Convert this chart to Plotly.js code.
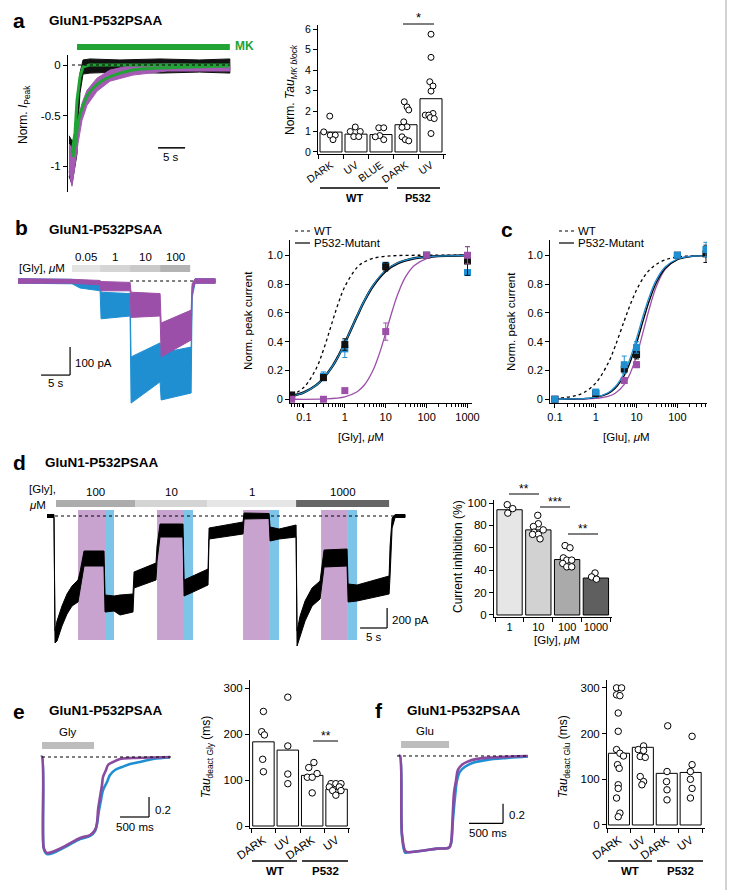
<!DOCTYPE html>
<html>
<head>
<meta charset="utf-8">
<script src="https://cdn.plot.ly/plotly-3.0.1.min.js"></script>
<style>html,body{margin:0;padding:0;background:#fff;}#chart{width:730px;height:890px;}</style>
</head>
<body>
<div id="chart"></div>
<script>
// ================= DATA =================
// Panel a – MK-801 block traces (time in s, normalized current)
const aBlackT  = [0.19,0.74,1.30,1.67,1.85,2.22,2.78,4.07,9.63,17.04,24.4,30.0];
const aBlackUp = [-0.70,-0.75,-0.72,-0.65,-0.40,-0.08,0.05,0.06,0.05,0.06,0.05,0.06];
const aBlackLo = [-1.10,-1.18,-1.00,-0.88,-0.60,-0.28,-0.09,-0.08,-0.07,-0.08,-0.07,-0.08];
const aPurT  = [0.19,0.74,1.30,1.85,2.59,3.52,5.37,7.78,12.04,18.33,30.0];
const aPurUp = [-0.78,-0.82,-0.72,-0.55,-0.38,-0.25,-0.13,-0.05,0.00,0.01,0.00];
const aPurLo = [-1.05,-1.20,-1.00,-0.78,-0.55,-0.40,-0.26,-0.16,-0.10,-0.06,-0.06];
const aFitBT = [0.74,1.30,1.67,2.22,2.78,3.89,30.0];
const aFitBV = [-0.87,-0.67,-0.35,-0.12,-0.02,0.0,0.0];
const aFitPT = [0.93,1.48,1.85,2.59,3.52,4.63,6.48,9.07,12.04,17.04,22.6,30.0];
const aFitPV = [-0.91,-0.74,-0.57,-0.43,-0.31,-0.23,-0.15,-0.09,-0.05,-0.03,-0.02,-0.01];
const aMK = [1.67, 30.0];

// Panel a – bar chart
const aCats  = ['DARK','UV','BLUE','DARK','UV'];
const aMeans = [0.97,0.87,0.85,1.33,2.6];
const aPts = [
  [1.75,0.98,0.82,0.82,0.6],
  [1.22,1.0,1.0,0.75,0.75],
  [1.18,1.18,0.8,0.74,0.6],
  [2.45,2.2,2.05,1.47,1.23,1.2,0.74,0.6,0.54],
  [5.75,4.62,3.43,3.22,2.97,1.88,1.8,1.8,1.68,1.63,0.9]
];
const aJit = [
  [-0.05,-0.29,-0.03,0.17,0.08],
  [-0.03,-0.23,0.17,-0.09,0.11],
  [-0.09,0.11,-0.05,-0.23,0.11],
  [-0.07,0.04,0.11,-0.09,0.04,-0.16,-0.16,-0.03,0.11],
  [0,0,-0.05,0.08,0,0.08,-0.23,-0.09,-0.03,0.13,0]
];

// Panel b – Gly steps trace (time s, current pA)
const bBlueT  = [0,9.31,10.69,14.14,14.31,19.31,19.48,21.9,24.48,24.66,29.83,30.0,30.5,33.97];
const bBlueUp = [8,6,-5,-10,-40,-45,-271,-246,-221,-257,-236,-20,8,8];
const bBlueLo = [-8,-10,-25,-35,-135,-125,-436,-400,-360,-425,-400,-60,-8,-8];
const bPurT  = [0,9.31,14.14,14.31,19.31,19.48,24.48,24.66,29.83,30.0,30.5,33.97];
const bPurUp = [8,6,2,-2,-5,-40,-45,-150,-104,-10,8,8];
const bPurLo = [-8,-8,-14,-35,-35,-130,-125,-271,-211,-40,-8,-8];
const bGlyLabels = ['0.05','1','10','100'];
const bGlyStart  = [9.31,14.14,19.31,24.48];
const bGlyEnd    = [14.14,19.31,24.48,29.66];

// Panel b – Gly dose response
const bConc   = [0.05,0.3,1,10,100,1000];
const bBlack  = [0.03,0.15,0.38,0.92,1.0,0.96];
const bBlackE = [0.01,0.02,0.04,0.03,0,0.1];
const bBlue   = [0.02,0.16,0.35,0.93,1.0,0.88];
const bBlueE  = [0.01,0.03,0.06,0.02,0,0];
const bPurple = [0.0,0.0,0.06,0.47,1.0,1.0];
const bPurpleE= [0,0,0.01,0.06,0,0.06];
const bCurveX = [0.05,0.1,0.2,0.3,0.5,0.7,1,2,3,5,10,20,50,100,1000];
const bWTcurve   = [0.029,0.083,0.214,0.343,0.542,0.67,0.782,0.916,0.954,0.979,0.993,0.998,1,1,1];
const bMutBlack  = [0.023,0.048,0.098,0.146,0.23,0.302,0.39,0.578,0.682,0.79,0.89,0.945,0.979,0.99,0.999];
const bMutBlue   = [0.022,0.047,0.097,0.145,0.23,0.30,0.39,0.58,0.685,0.795,0.895,0.948,0.98,0.99,0.999];
const bPurCurveX = [0.05,0.3,1,2,3,5,7,10,15,20,30,50,100,200,1000];
const bMutPurple = [0,0.002,0.017,0.052,0.099,0.207,0.317,0.46,0.629,0.734,0.846,0.929,0.977,0.993,1.0];

// Panel c – Glu dose response
const cConc   = [0.1,1,5,10,100,500];
const cBlack  = [0.0,0.04,0.21,0.31,1.0,1.01];
const cBlackE = [0,0.01,0.02,0.03,0,0.06];
const cBlue   = [0.0,0.05,0.24,0.36,1.0,1.04];
const cBlueE  = [0,0.01,0.06,0.04,0,0.05];
const cPurple = [0.0,0.04,0.13,0.24,1.0,1.13];
const cPurpleE= [0,0,0.02,0.02,0,0];
const cCurveX = [0.1,0.3,0.5,1,2,3,5,7,10,15,20,30,50,100,200,500];
const cWTcurve  = [0.005,0.023,0.045,0.112,0.249,0.369,0.545,0.657,0.759,0.848,0.893,0.936,0.968,0.988,0.995,0.999];
const cMutBlack = [0,0.002,0.004,0.013,0.040,0.076,0.165,0.259,0.39,0.56,0.675,0.806,0.908,0.970,0.990,0.998];
const cMutBlue  = [0,0.002,0.004,0.0145,0.045,0.0865,0.184,0.286,0.423,0.594,0.704,0.826,0.919,0.974,0.992,0.998];
const cMutPurple= [0,0,0.001,0.0055,0.020,0.042,0.104,0.181,0.303,0.485,0.618,0.778,0.902,0.972,0.992,0.999];

// Panel d – trace (time s, current pA)
const dT  = [1.30,2.59,2.78,3.15,4.07,5.00,5.93,7.04,7.41,8.15,11.85,12.04,13.70,14.81,17.22,17.41,21.48,21.67,22.22,26.48,26.67,28.33,31.11,31.30,37.59,37.78,42.41,42.59,44.26,47.41,47.59,48.15,49.07,50.37,51.85,52.59,56.85,57.04,58.70,64.63,64.81,65.19,65.74,67.59];
const dUp = [15,15,-1150,-1050,-900,-780,-700,-640,-560,-350,-350,-790,-800,-790,-780,-560,-470,-300,-80,-80,-640,-600,-530,-120,-60,30,25,-110,-130,-90,-1150,-1000,-850,-720,-650,-340,-330,-680,-690,-600,-300,-20,15,15];
const dLo = [-15,-15,-1270,-1250,-1100,-980,-900,-860,-760,-500,-500,-960,-950,-990,-960,-720,-640,-450,-210,-210,-800,-760,-690,-230,-180,-30,-25,-250,-230,-210,-1300,-1200,-1050,-900,-830,-510,-500,-860,-850,-780,-600,-120,-15,-15];
const dGlyLabels = ['100','10','1','1000'];
const dGlyStart  = [2.96,17.59,30.93,47.41];
const dGlyEnd    = [17.59,30.93,47.41,64.63];
const dUVStart   = [7.04,21.67,37.59,52.04];
const dUVEnd     = [12.04,26.48,42.41,56.85];
const dBlueEnd   = [13.70,28.33,44.26,58.70];

// Panel d – inhibition bars
const dCats  = ['1','10','100','1000'];
const dMeans = [94,76,49.5,33];
const dPts = [
  [98.5,95,91],
  [89,81.5,79,76,74,72,72,68],
  [62,60,51,49,49,46,43,43],
  [37.5,34,32]
];
const dJit = [
  [-0.08,0.11,-0.06],
  [-0.02,0,-0.17,0.17,-0.15,0,-0.2,0.06],
  [-0.07,0.1,-0.13,-0.01,0.16,-0.15,-0.01,0.16],
  [-0.03,-0.15,0.02]
];

// Panel e – Gly deactivation trace (ms, normalized)
const ePurT = [-17,0,26,52,86,172,431,655,828,914,948,966,1000,1034,1052,1103,1138,1224,1345,1569,2207];
const ePurV = [0,0,-0.90,-0.94,-0.96,-0.95,-0.88,-0.81,-0.78,-0.73,-0.66,-0.53,-0.40,-0.28,-0.20,-0.13,-0.08,-0.05,-0.02,-0.01,0];
const eBluT = [-17,0,26,52,86,190,431,655,828,914,948,983,1017,1052,1121,1172,1259,1379,1517,1690,1914,2207];
const eBluV = [0,0,-0.90,-0.95,-0.97,-0.96,-0.89,-0.82,-0.79,-0.74,-0.67,-0.53,-0.43,-0.33,-0.25,-0.18,-0.13,-0.10,-0.07,-0.05,-0.02,-0.005];
const eGly = [0, 897];

// Panel e – tau bars
const eCats  = ['DARK','UV','DARK','UV'];
const eMeans = [183,165,110,80];
const ePts = [
  [249,205,198,145,118],
  [280,174,113,92],
  [138,127,114,106,106,72],
  [92,92,92,85,85,77,77,67]
];
const eJit = [
  [0,-0.07,0.04,-0.03,0],
  [0,0,0,0],
  [0.07,-0.14,0.2,-0.2,0,0],
  [-0.23,-0.03,0.18,-0.3,0.11,-0.16,0.18,-0.03]
];

// Panel f – Glu deactivation trace
const fPurT = [-15,0,29,74,103,294,544,721,750,765,779,794,824,853,912,985,1132,1368,1882];
const fPurV = [0,0,-0.80,-0.97,-0.985,-0.975,-0.95,-0.94,-0.89,-0.76,-0.55,-0.38,-0.25,-0.14,-0.09,-0.06,-0.03,-0.015,0];
const fBluT = [-15,0,29,74,103,294,544,721,750,779,809,838,882,956,1074,1279,1574,1882];
const fBluV = [0,0,-0.82,-0.99,-0.99,-0.975,-0.95,-0.94,-0.90,-0.65,-0.42,-0.25,-0.16,-0.11,-0.07,-0.04,-0.02,-0.005];
const fGlu = [15, 721];

// Panel f – tau bars
const fCats  = ['DARK','UV','DARK','UV'];
const fMeans = [157,170,113,115];
const fPts = [
  [300,300,285,283,245,205,165,157,151,132,124,88,80,59,26,18],
  [173,165,163,150,148,106,95,88],
  [217,117,95,77,55],
  [194,132,117,100,80,59]
];
const fJit = [
  [-0.1,0.11,-0.1,0.04,-0.03,-0.03,-0.1,0.04,0.19,-0.06,0.01,-0.03,-0.03,-0.1,0.04,-0.03],
  [0.03,-0.19,0.03,-0.11,0.1,-0.11,0.03,-0.04],
  [0.04,0.01,-0.01,0.01,0.01],
  [0.06,0.06,-0.01,-0.01,0.06,-0.01]
];

// ================= STYLE / HELPERS =================
const FONT = 'Liberation Sans, Arial, Helvetica, sans-serif';
const W = 730, H = 890;
const xd = (a,b) => [a/W, b/W];
const yd = (t,b) => [1-b/H, 1-t/H];
const PURPLE = '#9c4fa8', BLUE = '#1f8fd2', GREEN = '#22a336';
const ROT = -35;

const traces = [], shapes = [], ann = [];

function band(t, up, lo, color, xa, ya){
  traces.push({type:'scatter', mode:'lines', x: t.concat(t.slice().reverse()), y: up.concat(lo.slice().reverse()),
    fill:'toself', fillcolor:color, line:{color:color, width:1}, xaxis:xa, yaxis:ya, hoverinfo:'skip'});
}
function line(x, y, color, width, xa, ya, dash, shape){
  traces.push({type:'scatter', mode:'lines', x, y, line:{color, width, dash:dash||'solid', shape:shape||'linear'}, xaxis:xa, yaxis:ya, hoverinfo:'skip'});
}
function squares(x, y, err, color, xa, ya){
  traces.push({type:'scatter', mode:'markers', x, y, xaxis:xa, yaxis:ya,
    marker:{symbol:'square', size:7, color},
    error_y:{type:'data', array:err, visible:true, color:color, thickness:1, width:2.5}, hoverinfo:'skip'});
}
function bars(means, colors, xa, ya, width){
  traces.push({type:'bar', x: means.map((_,i)=>i), y: means, width: width, xaxis:xa, yaxis:ya,
    marker:{color:colors, line:{color:'#000', width:1}}, hoverinfo:'skip'});
}
function dots(pts, jit, xa, ya, size){
  const xs=[], ys=[];
  pts.forEach((arr,i)=>arr.forEach((v,j)=>{xs.push(i+jit[i][j]); ys.push(v);}));
  traces.push({type:'scatter', mode:'markers', x:xs, y:ys, xaxis:xa, yaxis:ya, cliponaxis:false,
    marker:{symbol:'circle', size:size||6.5, color:'#fff', line:{color:'#000', width:1}}, hoverinfo:'skip'});
}
function L(x0,y0,x1,y1,o){ shapes.push(Object.assign({type:'line', xref:'paper', yref:'paper', x0:x0/W, y0:1-y0/H, x1:x1/W, y1:1-y1/H, line:{color:'#000', width:1}}, o||{})); }
function DL(xr,yr,x0,y0,x1,y1,o){ shapes.push(Object.assign({type:'line', xref:xr, yref:yr, x0, y0, x1, y1, line:{color:'#000', width:1}}, o||{})); }
function T(x,y,text,size,xanchor,color,angle){
  ann.push({xref:'paper', yref:'paper', x:x/W, y:1-y/H, text, showarrow:false, xanchor:xanchor||'center', yanchor:'middle',
    textangle: angle||0, font:{family:FONT, size:size||11, color:color||'#000'}});
}
function DT(xr, x, y, text, size){
  ann.push({xref:xr, yref:'paper', x, y:1-y/H, text, showarrow:false, xanchor:'center', yanchor:'middle', font:{family:FONT, size:size||11, color:'#000'}});
}

const ax = (o) => Object.assign({showline:true, linecolor:'#000', linewidth:1, ticks:'outside', ticklen:4, tickwidth:1, tickcolor:'#000',
  showgrid:false, zeroline:false, fixedrange:true, tickfont:{family:FONT, size:11, color:'#000'}}, o);
const hid = (o) => Object.assign({visible:false, showgrid:false, zeroline:false, fixedrange:true}, o);
function logMinor(a, b){ const v=[]; for(let e=a; e<=b; e++){ for(let k=2;k<=9;k++) v.push(k*Math.pow(10,e)); } return v; }
const catBounds = n => Array.from({length:n+1}, (_,i)=>i-0.5);

// ================= PANEL a =================
band(aBlackT, aBlackUp, aBlackLo, '#111', 'x', 'y');
band(aPurT, aPurUp, aPurLo, '#a55ab4', 'x', 'y');
line(aFitPT, aFitPV, GREEN, 3, 'x', 'y', 'solid', 'spline');
line(aFitBT, aFitBV, GREEN, 3, 'x', 'y');
shapes.push({type:'rect', xref:'x', yref:'paper', x0:aMK[0], x1:aMK[1], y0:1-50/H, y1:1-44/H, fillcolor:GREEN, line:{width:0}});
DL('x','y', 0.74, 0, 30, 0, {line:{color:'#000', width:1, dash:'dot'}});
DL('x','y', 16.7, -0.82, 21.7, -0.82, {line:{color:'#000', width:1.5}});

bars(aMeans, '#fff', 'x2', 'y2', 0.88);
dots(aPts, aJit, 'x2', 'y2', 6);

// ================= PANEL b =================
bGlyStart.forEach((s,i)=>{
  shapes.push({type:'rect', xref:'x3', yref:'paper', x0:s, x1:bGlyEnd[i], y0:1-272/H, y1:1-265/H,
    fillcolor:['#e3e3e3','#d5d5d5','#c9c9c9','#b3b3b3'][i], line:{width:0}});
  DT('x3', (s+bGlyEnd[i])/2, 257, bGlyLabels[i], 11.5);
});
band(bBlueT, bBlueUp, bBlueLo, BLUE, 'x3', 'y3');
band(bPurT, bPurUp, bPurLo, PURPLE, 'x3', 'y3');
DL('x3','y3', 19.31, 0, 30.17, 0, {line:{color:'#000', width:1, dash:'dot'}});
DL('x3','y3', 3.97, -336, 8.97, -336, {line:{color:'#000', width:1.2}});
DL('x3','y3', 8.97, -336, 8.97, -236, {line:{color:'#000', width:1.2}});

line(bCurveX, bWTcurve, '#000', 1.3, 'x4', 'y4', 'dot', 'spline');
line(bPurCurveX, bMutPurple, PURPLE, 1.3, 'x4', 'y4', 'solid', 'spline');
line(bCurveX, bMutBlack, '#000', 2.4, 'x4', 'y4', 'solid', 'spline');
line(bCurveX, bMutBlue, BLUE, 1.2, 'x4', 'y4', 'solid', 'spline');
squares(bConc, bBlue, bBlueE, BLUE, 'x4', 'y4');
squares(bConc, bBlack, bBlackE, '#111', 'x4', 'y4');
squares(bConc, bPurple, bPurpleE, PURPLE, 'x4', 'y4');

// ================= PANEL c =================
line(cCurveX, cWTcurve, '#000', 1.3, 'x5', 'y5', 'dot', 'spline');
line(cCurveX, cMutPurple, PURPLE, 1.3, 'x5', 'y5', 'solid', 'spline');
line(cCurveX, cMutBlack, '#000', 1.4, 'x5', 'y5', 'solid', 'spline');
line(cCurveX, cMutBlue, BLUE, 1.3, 'x5', 'y5', 'solid', 'spline');
squares(cConc, cPurple, cPurpleE, PURPLE, 'x5', 'y5');
squares(cConc, cBlack, cBlackE, '#111', 'x5', 'y5');
squares(cConc, cBlue, cBlueE, BLUE, 'x5', 'y5');

// ================= PANEL d =================
dUVStart.forEach((s,i)=>{
  shapes.push({type:'rect', xref:'x6', yref:'y6', x0:s, x1:dUVEnd[i], y0:-1240, y1:60, fillcolor:'#c9a3cf', line:{width:0}, layer:'below'});
  shapes.push({type:'rect', xref:'x6', yref:'y6', x0:dUVEnd[i], x1:dBlueEnd[i], y0:-1240, y1:60, fillcolor:'#7cc4e8', line:{width:0}, layer:'below'});
});
dGlyStart.forEach((s,i)=>{
  shapes.push({type:'rect', xref:'x6', yref:'paper', x0:s, x1:dGlyEnd[i], y0:1-507/H, y1:1-500/H,
    fillcolor:['#acacac','#d4d4d4','#e6e6e6','#666666'][i], line:{width:0}});
  DT('x6', (s+dGlyEnd[i])/2, 492, dGlyLabels[i], 11.5);
});
band(dT, dUp, dLo, '#000', 'x6', 'y6');
DL('x6','y6', 2.78, 0, 67.2, 0, {line:{color:'#000', width:1, dash:'dot'}});
DL('x6','y6', 59.26, -1120, 64.26, -1120, {line:{color:'#000', width:1.2}});
DL('x6','y6', 64.26, -1120, 64.26, -920, {line:{color:'#000', width:1.2}});

bars(dMeans, ['#e6e6e6','#d2d2d2','#aaaaaa','#5f5f5f'], 'x7', 'y7', 0.88);
dots(dPts, dJit, 'x7', 'y7', 6.5);

// ================= PANEL e =================
shapes.push({type:'rect', xref:'x8', yref:'paper', x0:eGly[0], x1:eGly[1], y0:1-749/H, y1:1-742/H, fillcolor:'#bdbdbd', line:{width:0}});
DT('x8', (eGly[0]+eGly[1])/2, 732, 'Gly', 11.5);
DL('x8','y8', 0, 0, 2241, 0, {line:{color:'#000', width:1, dash:'dot'}});
line(eBluT, eBluV, BLUE, 2.6, 'x8', 'y8', 'solid', 'spline');
line(ePurT, ePurV, '#8a4a9f', 2.6, 'x8', 'y8', 'solid', 'spline');
DL('x8','y8', 1345, -0.60, 1845, -0.60, {line:{color:'#000', width:1.2}});
DL('x8','y8', 1845, -0.60, 1845, -0.40, {line:{color:'#000', width:1.2}});

bars(eMeans, '#fff', 'x9', 'y9', 0.88);
dots(ePts, eJit, 'x9', 'y9', 6.5);

// ================= PANEL f =================
shapes.push({type:'rect', xref:'x10', yref:'paper', x0:fGlu[0], x1:fGlu[1], y0:1-748/H, y1:1-741/H, fillcolor:'#bdbdbd', line:{width:0}});
DT('x10', (fGlu[0]+fGlu[1])/2, 731, 'Glu', 11.5);
DL('x10','y10', -44, 0, 1868, 0, {line:{color:'#000', width:1, dash:'dot'}});
line(fBluT, fBluV, BLUE, 2.6, 'x10', 'y10', 'solid', 'spline');
line(fPurT, fPurV, '#8a4a9f', 2.6, 'x10', 'y10', 'solid', 'spline');
DL('x10','y10', 1015, -0.69, 1515, -0.69, {line:{color:'#000', width:1.2}});
DL('x10','y10', 1515, -0.69, 1515, -0.49, {line:{color:'#000', width:1.2}});

bars(fMeans, '#fff', 'x11', 'y11', 0.88);
dots(fPts, fJit, 'x11', 'y11', 6.5);

// ================= TEXT / DECOR =================
T(19, 20, '<b>a</b>', 21); T(47, 21, '<b>GluN1-P532PSAA</b>', 13.5, 'left');
T(21, 228, '<b>b</b>', 21); T(47, 230, '<b>GluN1-P532PSAA</b>', 13.5, 'left');
T(507, 230, '<b>c</b>', 21);
T(19, 463, '<b>d</b>', 21); T(43, 463, '<b>GluN1-P532PSAA</b>', 13.5, 'left');
T(19, 711, '<b>e</b>', 21); T(47, 710, '<b>GluN1-P532PSAA</b>', 13.5, 'left');
T(379, 710, '<b>f</b>', 21); T(405, 710, '<b>GluN1-P532PSAA</b>', 13.5, 'left');

// a
T(233, 46, '<b>MK</b>', 12, 'left', GREEN);
T(171, 157, '5 s', 11.5);
T(24, 114, 'Norm. <i>I</i><sub>Peak</sub>', 12, 'center', '#000', -90);
T(291, 90, 'Norm. <i>Tau</i><sub><i>MK block</i></sub>', 12, 'center', '#000', -90);
L(320,188,388,188,{line:{color:'#000',width:1.3}}); L(397,188,440,188,{line:{color:'#000',width:1.3}});
T(354, 198, '<b>WT</b>', 11); T(418, 198, '<b>P532</b>', 11);
L(403,24,434,24); T(418, 18, '*', 13);

// b
T(17, 268, '[Gly], <i>μ</i>M', 11.5, 'left');
T(73, 363, '100 pA', 11.5, 'left'); T(56, 383, '5 s', 11.5);
T(248, 321, 'Norm. peak current', 11.5, 'center', '#000', -90);
T(361, 437, '[Gly], <i>μ</i>M', 11.5);
L(295,231,310,231,{line:{color:'#000',width:1.2,dash:'dot'}}); T(312, 231, 'WT', 11.5, 'left');
L(295,243,310,243,{line:{color:'#000',width:1.2}}); T(312, 243, 'P532-Mutant', 11.5, 'left');
// c
T(511, 321, 'Norm. peak current', 11.5, 'center', '#000', -90);
T(626, 437, '[Glu], <i>μ</i>M', 11.5);
L(559,231,574,231,{line:{color:'#000',width:1.2,dash:'dot'}}); T(576, 231, 'WT', 11.5, 'left');
L(559,243,574,243,{line:{color:'#000',width:1.2}}); T(576, 243, 'P532-Mutant', 11.5, 'left');

// d
T(27, 489, '[Gly],', 11.5, 'left'); T(27, 505, '<i>μ</i>M', 11.5, 'left');
T(390, 620, '200 pA', 11.5, 'left'); T(374, 637, '5 s', 11.5);
T(458, 557, 'Current inhibition (%)', 12, 'center', '#000', -90);
T(557, 640, '[Gly], <i>μ</i>M', 11.5);
L(509,494,539,494); T(524, 489, '**', 12);
L(540,507,570,507); T(555, 502, '***', 12);
L(568,534,598,534); T(583, 529, '**', 12);

// e
T(153, 810, '0.2', 11.5, 'left'); T(135, 827, '500 ms', 11.5);
T(207, 757, '<i>Tau</i><sub>deact Gly</sub> (ms)', 12, 'center', '#000', -90);
L(252,861,297,861,{line:{color:'#000',width:1.3}}); L(302,861,348,861,{line:{color:'#000',width:1.3}});
T(275, 871, '<b>WT</b>', 11.5); T(325, 871, '<b>P532</b>', 11.5);
L(313,741,338,741); T(326, 736, '**', 12);

// f
T(507, 815, '0.2', 11.5, 'left'); T(488, 833, '500 ms', 11.5);
T(564, 757, '<i>Tau</i><sub>deact Glu</sub> (ms)', 12, 'center', '#000', -90);
L(608,861,652,861,{line:{color:'#000',width:1.3}}); L(657,861,703,861,{line:{color:'#000',width:1.3}});
T(630, 871, '<b>WT</b>', 11.5); T(680, 871, '<b>P532</b>', 11.5);

// page border line at right
L(726, 0, 726, 890, {line:{color:'#d2d2d2', width:2}});

// ================= LAYOUT =================
const layout = {
  width: W, height: H, autosize:false, showlegend:false,
  margin:{l:0, r:0, t:0, b:0}, paper_bgcolor:'#fff', plot_bgcolor:'rgba(0,0,0,0)',
  font:{family:FONT, size:11, color:'#000'},
  bargap:0,
  xaxis: hid({domain:xd(68,232), range:[0,30.4], anchor:'y'}),
  yaxis: ax({domain:yd(55,192), range:[-1.257,0.099], anchor:'x', tickmode:'array', tickvals:[0,-0.5,-1], ticktext:['0','-0.5','-1'], tickfont:{family:FONT,size:11.5,color:'#000'}}),
  xaxis2: ax({domain:xd(318,446), range:[-0.52,4.6], anchor:'y2', tickmode:'array', tickvals:[0,1,2,3,4], ticktext:aCats, ticks:'', tickangle:ROT,
    tickfont:{family:FONT,size:10.5,color:'#000'}, minor:{tickmode:'array', tickvals:catBounds(5), ticks:'outside', ticklen:4, tickcolor:'#000', tickwidth:1}}),
  yaxis2: ax({domain:yd(25,154), range:[-0.1,6.2], anchor:'x2', tickmode:'array', tickvals:[0,1,2,3,4,5,6], tickfont:{family:FONT,size:10.5,color:'#000'}}),
  xaxis3: hid({domain:xd(15,220), range:[-0.52,34.8], anchor:'y3'}),
  yaxis3: hid({domain:yd(250,410), range:[-460.7,110.7], anchor:'x3'}),
  xaxis4: ax({type:'log', domain:xd(290,472), range:[-1.341,3.11], anchor:'y4', tickmode:'array', tickvals:[0.1,1,10,100,1000], ticktext:['0.1','1','10','100','1000'],
    minor:{tickmode:'array', tickvals:logMinor(-2,2).filter(v=>v>0.045), ticks:'outside', ticklen:2.5, tickcolor:'#000', tickwidth:1}}),
  yaxis4: ax({domain:yd(240,403), range:[-0.026,1.106], anchor:'x4', tickmode:'array', tickvals:[0,0.2,0.4,0.6,0.8,1.0], ticktext:['0','0.2','0.4','0.6','0.8','1.0']}),
  xaxis5: ax({type:'log', domain:xd(550,707), range:[-1.12,2.725], anchor:'y5', tickmode:'array', tickvals:[0.1,1,10,100], ticktext:['0.1','1','10','100'],
    minor:{tickmode:'array', tickvals:logMinor(-1,2).filter(v=>v<=500), ticks:'outside', ticklen:2.5, tickcolor:'#000', tickwidth:1}}),
  yaxis5: ax({domain:yd(240,403), range:[-0.026,1.106], anchor:'x5', tickmode:'array', tickvals:[0,0.2,0.4,0.6,0.8,1.0], ticktext:['0','0.2','0.4','0.6','0.8','1.0']}),
  xaxis6: hid({domain:xd(40,410), range:[0,68.5], anchor:'y6'}),
  yaxis6: hid({domain:yd(505,650), range:[-1340,110], anchor:'x6'}),
  xaxis7: ax({domain:xd(494,612), range:[-0.54,3.56], anchor:'y7', tickmode:'array', tickvals:[0,1,2,3], ticktext:dCats, ticks:'',
    tickfont:{family:FONT,size:11,color:'#000'}, minor:{tickmode:'array', tickvals:catBounds(4), ticks:'outside', ticklen:4, tickcolor:'#000', tickwidth:1}}),
  yaxis7: ax({domain:yd(500,617), range:[-1.8,102.7], anchor:'x7', tickmode:'array', tickvals:[0,20,40,60,80,100], tickfont:{family:FONT,size:11.5,color:'#000'}}),
  xaxis8: hid({domain:xd(35,180), range:[-121,2379], anchor:'y8'}),
  yaxis8: hid({domain:yd(735,870), range:[-1.13,0.22], anchor:'x8'}),
  xaxis9: ax({domain:xd(250,350), range:[-0.55,3.55], anchor:'y9', tickmode:'array', tickvals:[0,1,2,3], ticktext:eCats, ticks:'', tickangle:ROT,
    tickfont:{family:FONT,size:11.5,color:'#000'}, minor:{tickmode:'array', tickvals:catBounds(4), ticks:'outside', ticklen:4, tickcolor:'#000', tickwidth:1}}),
  yaxis9: ax({domain:yd(680,828), range:[-4.35,317.4], anchor:'x9', tickmode:'array', tickvals:[0,100,200,300], tickfont:{family:FONT,size:11.5,color:'#000'}}),
  xaxis10: hid({domain:xd(393,535), range:[-103,1985], anchor:'y10'}),
  yaxis10: hid({domain:yd(735,870), range:[-1.169,0.215], anchor:'x10'}),
  xaxis11: ax({domain:xd(607,705), range:[-0.5,3.6], anchor:'y11', tickmode:'array', tickvals:[0,1,2,3], ticktext:fCats, ticks:'', tickangle:ROT,
    tickfont:{family:FONT,size:11.5,color:'#000'}, minor:{tickmode:'array', tickvals:catBounds(4), ticks:'outside', ticklen:4, tickcolor:'#000', tickwidth:1}}),
  yaxis11: ax({domain:yd(680,828), range:[-6.6,317.3], anchor:'x11', tickmode:'array', tickvals:[0,100,200,300], tickfont:{family:FONT,size:11.5,color:'#000'}}),
  shapes, annotations: ann
};

Plotly.newPlot('chart', traces, layout, {staticPlot:true, displayModeBar:false});
</script>
</body>
</html>
